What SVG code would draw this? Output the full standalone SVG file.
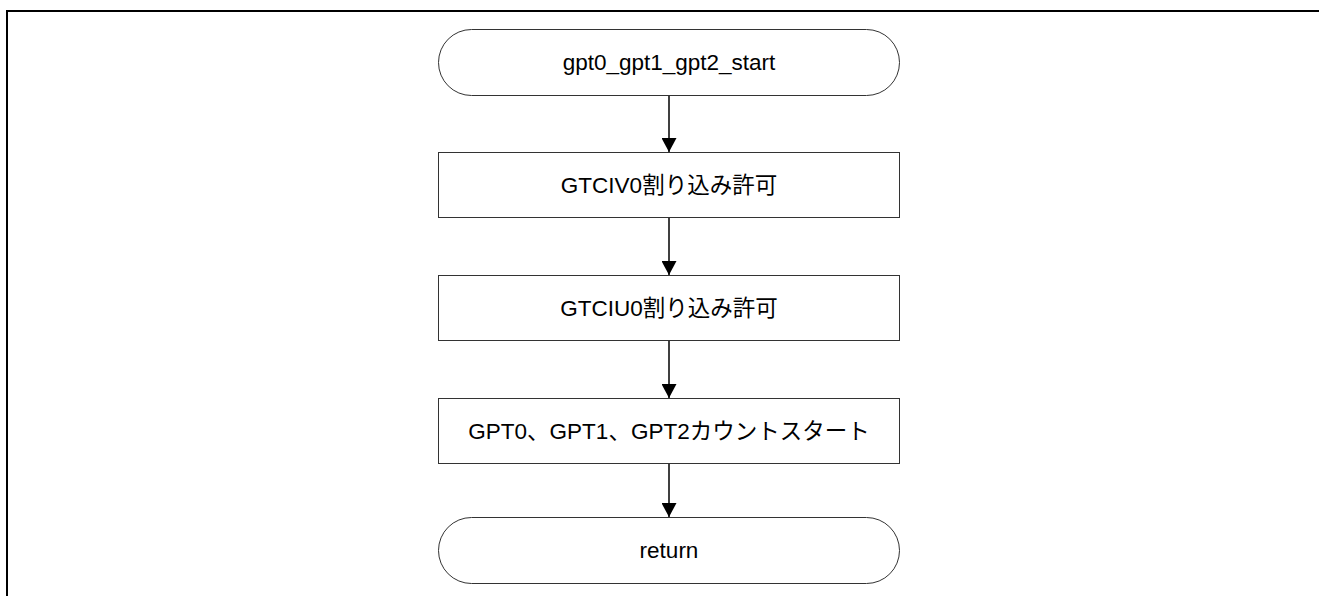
<svg xmlns="http://www.w3.org/2000/svg" width="1319" height="596" viewBox="0 0 1319 596">
<style>
.n{fill:#fff;stroke:#333;stroke-width:1}
.t{font-family:"Liberation Sans","Noto Sans CJK JP",sans-serif;font-size:22.5px;fill:#000;text-anchor:middle;dominant-baseline:central}
.c{stroke:#000;stroke-width:1.5;fill:none;marker-end:url(#ah)}
</style>
<defs>
<marker id="ah" markerWidth="14" markerHeight="15" refX="14" refY="7.5" orient="auto" markerUnits="userSpaceOnUse">
<path d="M0,0 L14,7.5 L0,15 Z" fill="#000"/>
</marker>
</defs>
<rect width="1319" height="596" fill="#fff"/>
<path d="M7,596 V11 H1319" fill="none" stroke="#000" stroke-width="2"/>
<g id="start"><rect class="n" x="438.5" y="29.5" width="461" height="66" rx="33" ry="33"/><text class="t" x="669" y="62">gpt0_gpt1_gpt2_start</text></g>
<g id="p1"><rect class="n" x="438.5" y="152.5" width="461" height="65"/><text class="t" x="669" y="185">GTCIV0割り込み許可</text></g>
<g id="p2"><rect class="n" x="438.5" y="275.5" width="461" height="65"/><text class="t" x="669" y="308">GTCIU0割り込み許可</text></g>
<g id="p3"><rect class="n" x="438.5" y="398.5" width="461" height="65"/><text class="t" x="669" y="431">GPT0、GPT1、GPT2カウントスタート</text></g>
<g id="end"><rect class="n" x="438.5" y="517.5" width="461" height="66" rx="33" ry="33"/><text class="t" x="669" y="550">return</text></g>
<g id="connectors">
<line class="c" x1="669" y1="96" x2="669" y2="152"/>
<line class="c" x1="669" y1="218" x2="669" y2="275"/>
<line class="c" x1="669" y1="341" x2="669" y2="398"/>
<line class="c" x1="669" y1="464" x2="669" y2="517"/>
</g>
</svg>
